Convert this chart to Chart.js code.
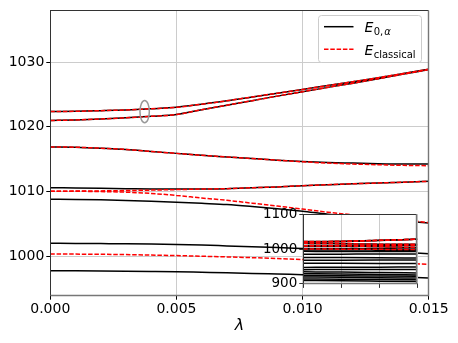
<!DOCTYPE html>
<html><head><meta charset="utf-8">
<script src="https://cdn.jsdelivr.net/npm/chart.js@4/dist/chart.umd.min.js"></script>
<style>
html,body{margin:0;padding:0;background:#fff;}
#wrap{position:relative;width:458px;height:343px;overflow:hidden;}
#main{position:absolute;left:0;top:0;}
#inset{position:absolute;left:255px;top:204px;}
</style></head><body>
<div id="wrap"><canvas id="main" width="458" height="343"></canvas><canvas id="inset" width="170" height="90"></canvas></div>
<script>
// ---------- data ----------
const lam = [0,0.001,0.002,0.003,0.004,0.005,0.006,0.007,0.008,0.009,0.010,0.011,0.012,0.013,0.014,0.015];
const xTicks = [0,0.005,0.010,0.015];
const yTicks = [1000,1010,1020,1030];
const insetYTicks = [900,1000,1100];
const legendLabels = [['E','0,','α'],['E','classical','']];

// quantum levels E_{0,alpha} (black)
const qA = [1022.36,1022.4,1022.5,1022.62,1022.8,1023.02,1023.5,1024.02,1024.62,1025.2,1025.78,1026.38,1026.98,1027.6,1028.25,1028.9];
const qB = [1020.98,1021.07,1021.22,1021.4,1021.62,1021.9,1022.65,1023.35,1024.05,1024.75,1025.43,1026.1,1026.75,1027.45,1028.15,1028.85];
const qC = [1016.9,1016.85,1016.7,1016.5,1016.2,1015.9,1015.6,1015.35,1015.1,1014.85,1014.65,1014.5,1014.4,1014.3,1014.25,1014.25];
const qD = [1010.6,1010.55,1010.5,1010.45,1010.4,1010.38,1010.4,1010.45,1010.58,1010.72,1010.9,1011.05,1011.2,1011.32,1011.45,1011.58];
const qE = [1008.8,1008.78,1008.72,1008.62,1008.5,1008.35,1008.18,1008.0,1007.7,1007.35,1006.95,1006.5,1006.15,1005.75,1005.45,1005.15];
const qF = [1002.0,1001.98,1001.95,1001.92,1001.88,1001.82,1001.72,1001.6,1001.48,1001.35,1001.2,1001.05,1000.9,1000.75,1000.58,1000.4];
const qH = [997.75,997.74,997.72,997.69,997.65,997.6,997.52,997.44,997.35,997.25,997.15,997.05,996.95,996.85,996.75,996.65];

// classical levels (red dashed)
const cA = [1022.36,1022.4,1022.5,1022.62,1022.8,1023.02,1023.5,1024.02,1024.62,1025.2,1025.78,1026.38,1026.98,1027.6,1028.25,1028.9];
const cB = [1020.98,1021.07,1021.22,1021.4,1021.62,1021.9,1022.65,1023.35,1024.05,1024.75,1025.43,1026.1,1026.75,1027.45,1028.15,1028.85];
const cC = [1016.9,1016.85,1016.7,1016.5,1016.2,1015.9,1015.6,1015.35,1015.1,1014.85,1014.6,1014.4,1014.25,1014.15,1014.05,1014.0];
const cD = [1010.05,1010.07,1010.1,1010.15,1010.22,1010.3,1010.38,1010.45,1010.58,1010.72,1010.9,1011.05,1011.2,1011.32,1011.45,1011.58];
const cE = [1010.05,1010.04,1010.0,1009.9,1009.7,1009.4,1009.0,1008.65,1008.2,1007.75,1007.3,1006.8,1006.4,1006.0,1005.6,1005.2];
const cG = [1000.35,1000.33,1000.3,1000.25,1000.18,1000.1,1000.0,999.9,999.78,999.65,999.5,999.35,999.2,999.05,998.9,998.75];

// extra lower quantum levels visible only in the inset
const lamInset = [0,0.005,0.010,0.015];
const lowLevels = [
  [993.6,993.5,993.3,993.0],
  [985.2,985.5,985.8,986.0],
  [976.0,975.6,975.0,974.0],
  [967.6,967.9,968.2,968.5],
  [959.2,959.0,958.6,958.0],
  [947.0,947.3,947.7,948.0],
  [940.5,940.7,940.9,941.0],
  [934.0,933.3,932.2,931.0],
  [928.5,927.5,926.3,925.0],
  [923.7,923.0,922.0,921.0],
  [919.0,918.2,917.2,916.0],
  [913.4,912.6,911.8,911.0],
  [908.9,908.0,907.0,906.0]
];

// marked avoided crossing (ellipse): centre and half-axes in data units
const ellipseCenter = [0.00374, 1022.36];
const ellipseRadii = [0.000186, 1.73];

// ---------- helpers ----------
const quantum = [qA,qB,qC,qD,qE,qF,qH];
const classical = [cA,cB,cC,cD,cE,cG];
function ds(xs, ys, color, dashed, lw){
  return {
    data: xs.map((x,i)=>({x:x, y:ys[i]})),
    borderColor: color, backgroundColor: color,
    borderWidth: lw, borderDash: dashed ? [4.5,1.8] : [],
    pointRadius: 0, fill: false, cubicInterpolationMode: 'monotone',
    order: dashed ? 0 : 1
  };
}
const FONT = 'DejaVu Sans';

const framePlugin = {
  id: 'frame',
  beforeDraw(chart, args, opts){
    if (opts && opts.bg){
      const a = chart.chartArea, ctx = chart.ctx;
      ctx.save(); ctx.fillStyle = '#fff';
      ctx.fillRect(a.left, a.top, a.right-a.left, a.bottom-a.top);
      ctx.restore();
    }
  },
  afterDatasetsDraw(chart){
    const a = chart.chartArea, ctx = chart.ctx;
    const l = Math.round(a.left)+0.5, t = Math.round(a.top)+0.5;
    const r = Math.round(a.right)-0.5, b = Math.round(a.bottom)-0.5;
    ctx.save(); ctx.lineWidth = 1;
    ctx.strokeStyle = '#333';
    ctx.beginPath(); ctx.moveTo(l, b); ctx.lineTo(l, t); ctx.lineTo(r, t); ctx.stroke();
    ctx.strokeStyle = '#777'; ctx.lineWidth = 1.4;
    ctx.beginPath(); ctx.moveTo(r, t); ctx.lineTo(r, b); ctx.lineTo(l, b); ctx.stroke();
    ctx.restore();
  }
};

const ellipsePlugin = {
  id: 'ellipse',
  afterDatasetsDraw(chart){
    const xs = chart.scales.x, ys = chart.scales.y, ctx = chart.ctx;
    const cx = xs.getPixelForValue(ellipseCenter[0]);
    const cy = ys.getPixelForValue(ellipseCenter[1]);
    const rx = Math.abs(xs.getPixelForValue(ellipseCenter[0]+ellipseRadii[0]) - cx);
    const ry = Math.abs(ys.getPixelForValue(ellipseCenter[1]+ellipseRadii[1]) - cy);
    ctx.save(); ctx.strokeStyle = '#999'; ctx.lineWidth = 1.5;
    ctx.beginPath(); ctx.ellipse(cx, cy, rx, ry, 0, 0, Math.PI*2); ctx.stroke();
    ctx.restore();
  }
};

const legendPlugin = {
  id: 'mplLegend',
  afterDraw(chart){
    const ctx = chart.ctx;
    ctx.save();
    const bx = 318.5, by = 15.5, bw = 103, bh = 47;
    ctx.beginPath(); ctx.roundRect(bx, by, bw, bh, 3);
    ctx.fillStyle = 'rgba(255,255,255,0.8)'; ctx.fill();
    ctx.strokeStyle = '#cccccc'; ctx.lineWidth = 1; ctx.stroke();
    const rows = [{y:26.7, color:'#000', dash:[]}, {y:49.3, color:'#ff0000', dash:[4.5,1.8]}];
    rows.forEach((r, i) => {
      ctx.beginPath(); ctx.setLineDash(r.dash);
      ctx.strokeStyle = r.color; ctx.lineWidth = 1.5;
      ctx.moveTo(324, r.y); ctx.lineTo(353.5, r.y); ctx.stroke();
      ctx.setLineDash([]);
      const lab = legendLabels[i];
      const base = r.y + 5.4;
      ctx.fillStyle = '#000'; ctx.textBaseline = 'alphabetic'; ctx.textAlign = 'left';
      ctx.font = 'italic 14px "' + FONT + '"';
      ctx.fillText(lab[0], 364.5, base);
      let x = 364.5 + ctx.measureText(lab[0]).width + 0.3;
      ctx.font = '10px "' + FONT + '"';
      ctx.fillText(lab[1], x, base + 2.8);
      x += ctx.measureText(lab[1]).width + 1;
      if (lab[2]){
        ctx.font = 'italic 10px "' + FONT + '"';
        ctx.fillText(lab[2], x, base + 2.8);
      }
    });
    ctx.restore();
  }
};

// ---------- main chart ----------
const mainSets = [];
quantum.forEach(q => mainSets.push(ds(lam, q, '#000000', false, 1.5)));
classical.forEach(c => mainSets.push(ds(lam, c, '#ff0000', true, 1.5)));

new Chart(document.getElementById('main'), {
  type: 'line',
  data: { datasets: mainSets },
  options: {
    responsive: false, animation: false, devicePixelRatio: 1,
    layout: { padding: { top: 8.3, right: 29.3, left: 0, bottom: 0 } },
    plugins: { legend: { display: false }, tooltip: { enabled: false } },
    scales: {
      x: {
        type: 'linear', min: 0, max: 0.015,
        afterBuildTicks: s => { s.ticks = xTicks.map(v => ({value: v})); },
        afterFit: s => { s.height = 47.3; },
        ticks: { callback: v => Number(v).toFixed(3), font: {family: FONT, size: 14}, color: '#000', padding: 1, maxRotation: 0, autoSkip: false },
        grid: { color: '#cccccc', lineWidth: 1, tickLength: 4, tickColor: '#000', drawTicks: true },
        border: { display: true, color: '#777', width: 1 },
        title: { display: true, text: 'λ', font: {family: FONT, size: 16, style: 'italic'}, color: '#000', padding: {top: 0, bottom: 8} }
      },
      y: {
        type: 'linear', min: 993.9, max: 1038,
        afterBuildTicks: s => { s.ticks = yTicks.map(v => ({value: v})); },
        afterFit: s => { s.width = 50.3; },
        ticks: { callback: v => String(v), font: {family: FONT, size: 14}, color: '#000', padding: 2 },
        grid: { color: '#cccccc', lineWidth: 1, tickLength: 4, tickColor: '#000', drawTicks: true },
        border: { display: true, color: '#333', width: 1 }
      }
    }
  },
  plugins: [framePlugin, ellipsePlugin, legendPlugin]
});

// ---------- inset chart ----------
const insetSets = [];
quantum.forEach(q => insetSets.push(ds(lam, q, '#000000', false, 1.5)));
lowLevels.forEach(l => insetSets.push(ds(lamInset, l, '#000000', false, 1.5)));
classical.forEach(c => insetSets.push(ds(lam, c, '#ff0000', true, 1.5)));

new Chart(document.getElementById('inset'), {
  type: 'line',
  data: { datasets: insetSets },
  options: {
    responsive: false, animation: false, devicePixelRatio: 1,
    layout: { padding: { top: 8, right: 7.7, left: 0, bottom: 0 } },
    plugins: { legend: { display: false }, tooltip: { enabled: false }, frame: { bg: true } },
    scales: {
      x: {
        type: 'linear', min: 0, max: 0.015,
        afterBuildTicks: s => { s.ticks = xTicks.map(v => ({value: v})); },
        afterFit: s => { s.height = 9; },
        ticks: { display: false },
        grid: { color: '#cccccc', lineWidth: 1, tickLength: 4, tickColor: '#333', drawTicks: true },
        border: { display: true, color: '#777', width: 1 }
      },
      y: {
        type: 'linear', min: 899, max: 1102,
        afterBuildTicks: s => { s.ticks = insetYTicks.map(v => ({value: v})); },
        afterFit: s => { s.width = 48.3; },
        ticks: { callback: v => String(v), font: {family: FONT, size: 13.5}, color: '#000', padding: 2 },
        grid: { color: '#cccccc', lineWidth: 1, tickLength: 4, tickColor: '#333', drawTicks: true },
        border: { display: true, color: '#333', width: 1 }
      }
    }
  },
  plugins: [framePlugin]
});
</script>
</body></html>
